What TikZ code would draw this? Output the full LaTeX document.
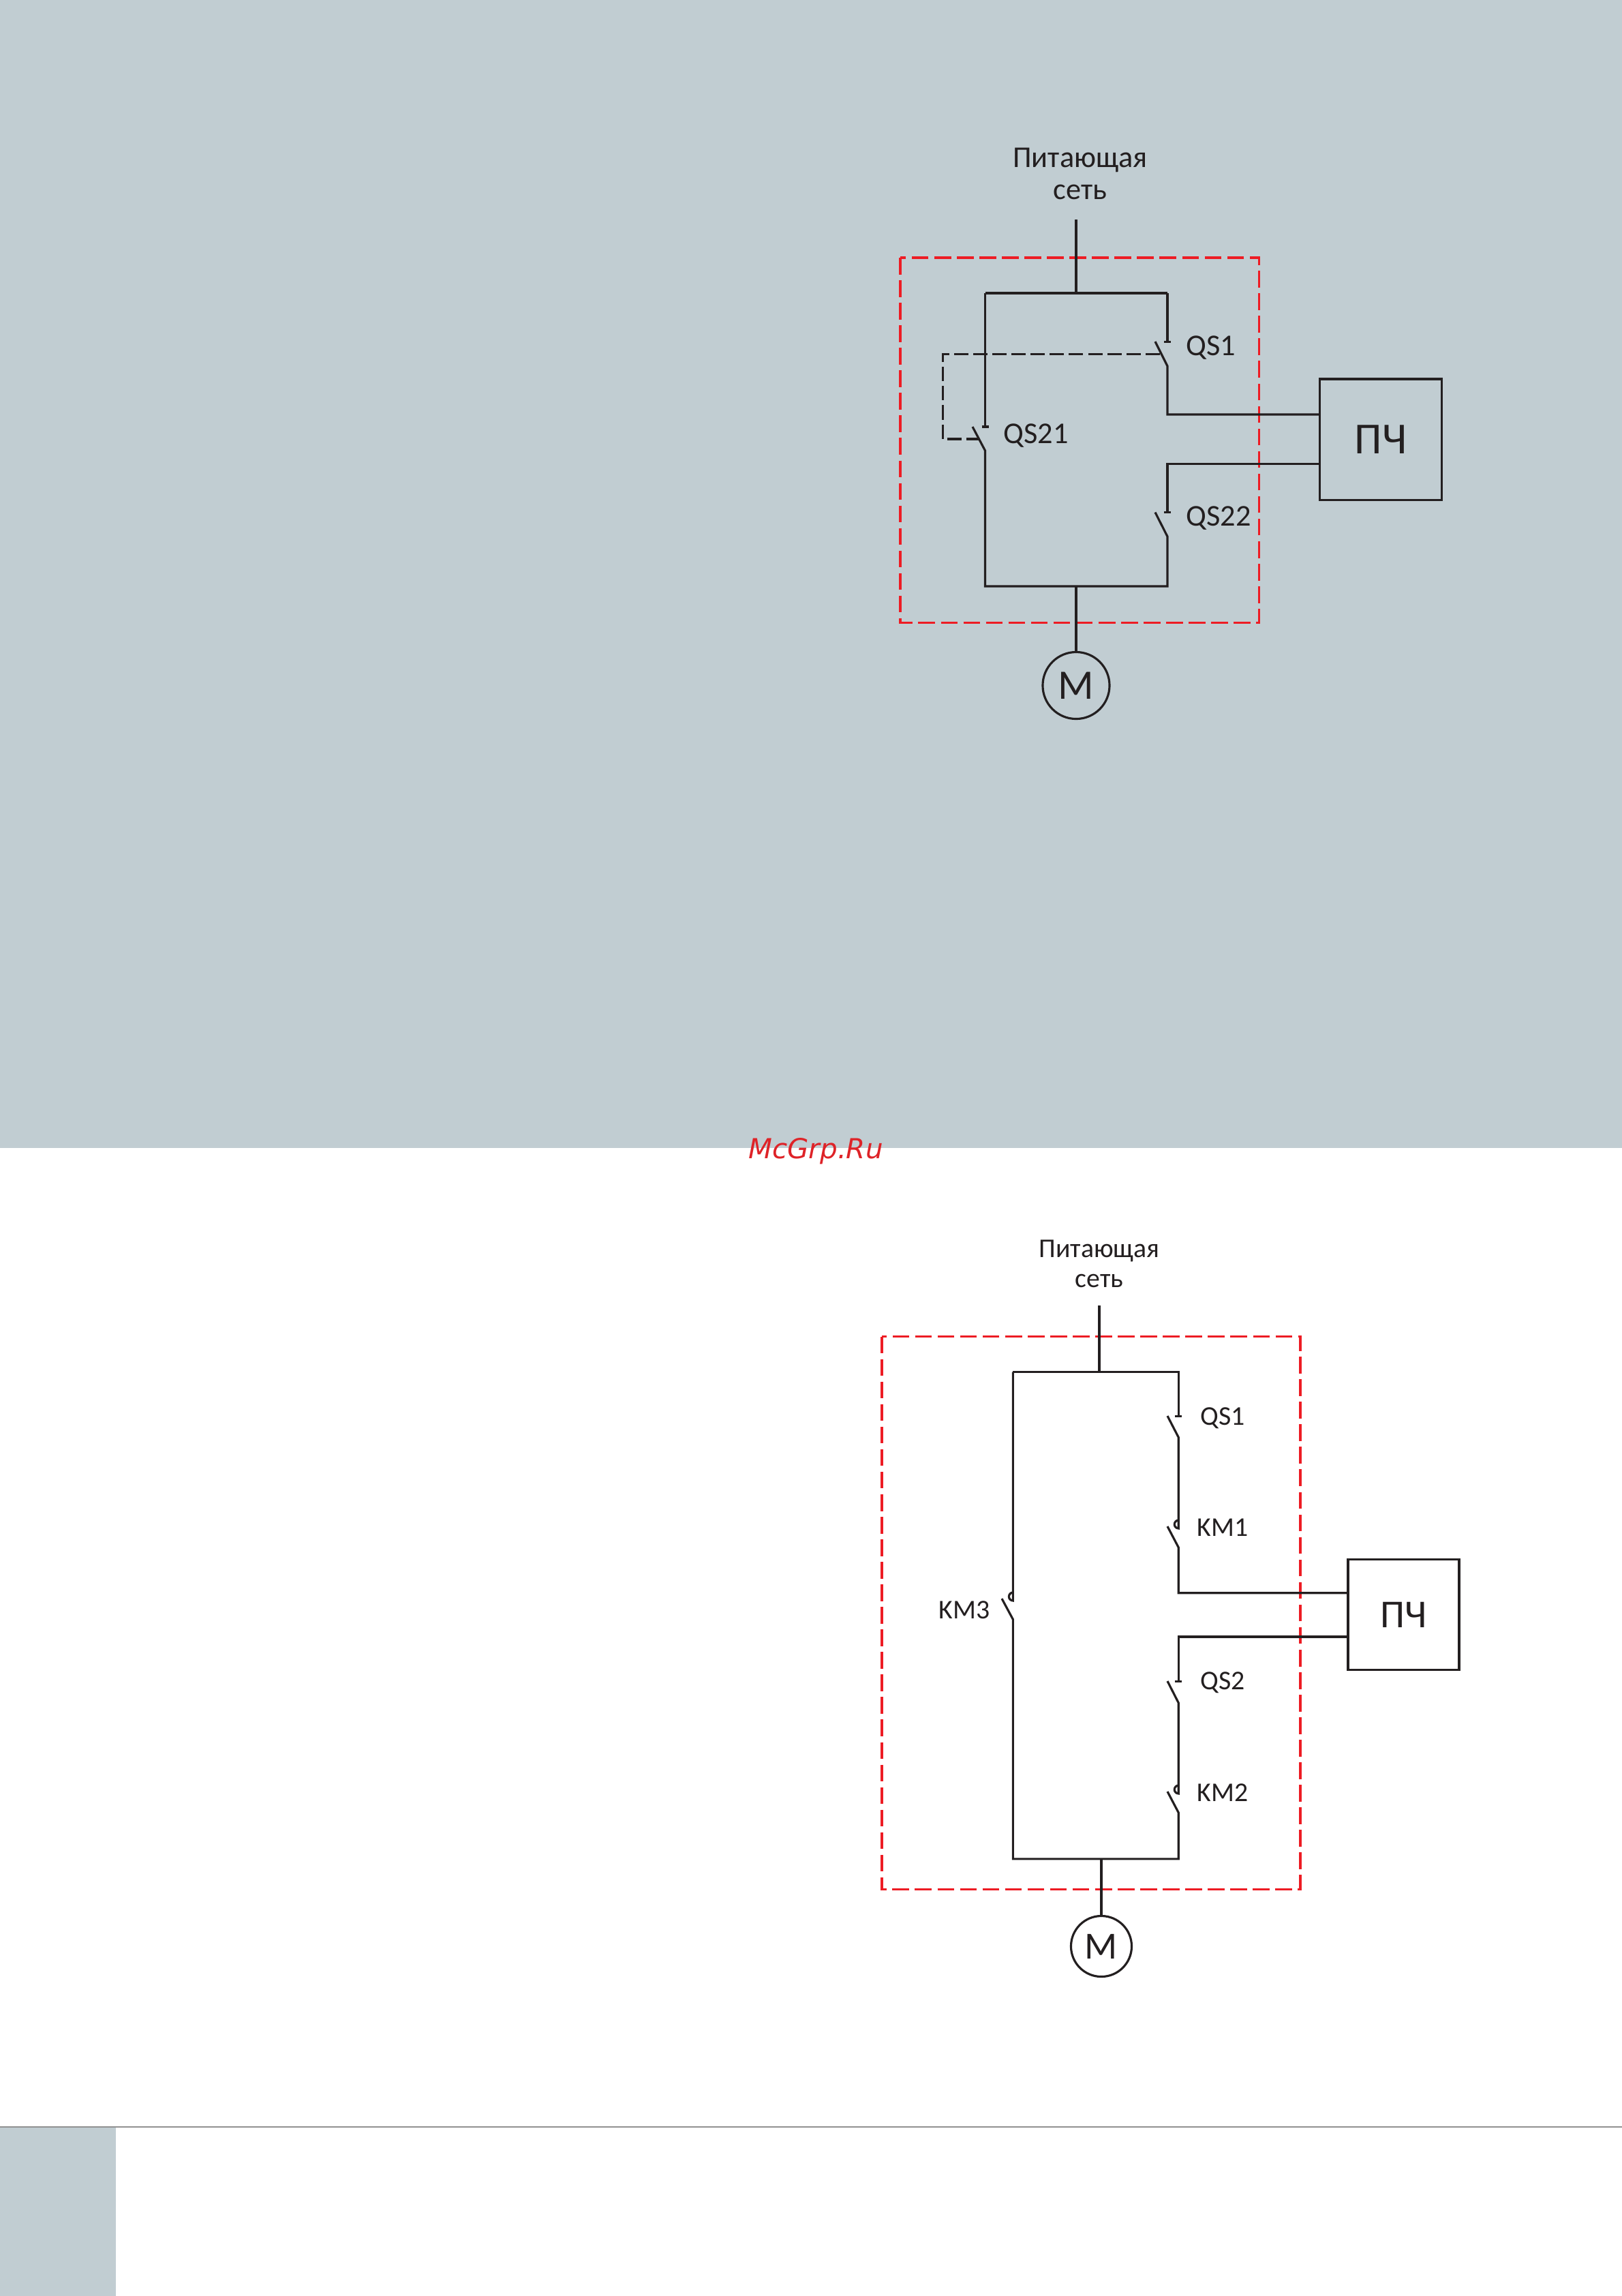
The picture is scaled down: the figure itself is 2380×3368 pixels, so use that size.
\documentclass[tikz,border=0pt]{standalone}
\usepackage{fontspec}
\setmainfont{Carlito}
\newfontfamily\markfont{DejaVu Sans}
\usetikzlibrary{positioning}
\definecolor{pagegrey}{RGB}{193,205,210}
\definecolor{inkblack}{RGB}{35,31,32}
\definecolor{framered}{RGB}{237,28,36}
\definecolor{markred}{RGB}{222,35,40}
\definecolor{rulegrey}{RGB}{145,145,145}
\tikzset{
  wire/.style={draw=inkblack, line width=0.9pt},
  linkdash/.style={draw=inkblack, line width=0.9pt, dash pattern=on 6pt off 2pt},
  redframe/.style={draw=framered, line width=0.9pt, dash pattern=on 7pt off 2.4pt},
  unitbox/.style={rectangle, draw=inkblack, line width=0.9pt, inner sep=0pt, outer sep=0pt, text=inkblack},
  motorbox/.style={circle, draw=inkblack, line width=0.9pt, inner sep=0pt, outer sep=0pt, text=inkblack},
  lbltop/.style={text=inkblack, inner sep=0pt, font=\fontsize{12.6}{13.4}\selectfont},
  lblbot/.style={text=inkblack, inner sep=0pt, font=\fontsize{11.3}{12.5}\selectfont},
}
\begin{document}
\begin{tikzpicture}[x=0.01cm, y=-0.01cm]
    \useasboundingbox (0,0) rectangle (2380,3368);
    \fill [pagegrey] (0,0) rectangle (2380,1684);
    \fill [pagegrey] (0,3121) rectangle (170,3368);
    \fill [rulegrey] (0,3119) rectangle (2380,3121);

    \node (netlabela) [lbltop, align=center, anchor=base] at (1585,292.5) {Питающая\\сеть};
    \coordinate (feedatop) at (1579,322);
    \coordinate (feedabus) at (1579,430);
    \coordinate (busal) at (1445.5,430);
    \coordinate (busar) at (1713,430);
    \coordinate (qsonet) at (1713,501.5);
    \coordinate (qsones) at (1695,501);
    \coordinate (qsoneb) at (1713,537);
    \coordinate (wireaa) at (1713,608);
    \coordinate (qslt) at (1445.5,626);
    \coordinate (qsls) at (1427,626);
    \coordinate (qslb) at (1445.5,661);
    \coordinate (wireab) at (1713,680.6);
    \coordinate (qsrt) at (1713,751.8);
    \coordinate (qsrs) at (1695,751.5);
    \coordinate (qsrb) at (1713,787);
    \coordinate (botal) at (1445.5,860);
    \coordinate (botar) at (1713,860);
    \coordinate (botam) at (1579,860);
    \coordinate (linka) at (1702,519.3);
    \coordinate (linkb) at (1383.3,519.3);
    \coordinate (linkc) at (1383.3,644);
    \coordinate (linkd) at (1436,644);
    \node (pcha) [unitbox, minimum width=1.784cm, minimum height=1.774cm, font=\fontsize{18.5}{19}\selectfont] at (2026,644.7) {ПЧ};
    \node (motora) [motorbox, minimum size=0.98cm, font=\fontsize{17.5}{18}\selectfont] at (1579,1005.5) {M};
    \node (qsonel) [lbltop, anchor=base west] at (1740,521) {QS1};
    \node (qsltl) [lbltop, anchor=base west] at (1472,650) {QS21};
    \node (qsrl) [lbltop, anchor=base west] at (1740,771) {QS22};

    \draw [redframe] (1321,378) rectangle (1847.5,913.5);
    \draw [wire] (feedatop) -- (feedabus);
    \draw [wire] (busal) -- (busar);
    \draw [wire] (busar) -- (qsonet);
    \draw [wire] ([xshift=-0.05cm]qsonet) -- ([xshift=0.05cm]qsonet);
    \draw [wire] (qsones) -- (qsoneb) -- (wireaa) -- (wireaa -| pcha.west);
    \draw [wire] (busal) -- (qslt);
    \draw [wire] ([xshift=-0.05cm]qslt) -- ([xshift=0.05cm]qslt);
    \draw [wire] (qsls) -- (qslb) -- (botal) -- (botar) -- (qsrb) -- (qsrs);
    \draw [wire] ([xshift=-0.05cm]qsrt) -- ([xshift=0.05cm]qsrt);
    \draw [wire] (qsrt) -- (wireab) -- (wireab -| pcha.west);
    \draw [wire] (botam) -- (motora);
    \draw [linkdash] (linka) -- (linkb) -- (linkc) -- (linkd);

    \node (marklabel) [inner sep=0pt, anchor=base, text=markred, font=\markfont\itshape\fontsize{11.5}{12}\selectfont] at (1197,1699) {McGrp.Ru};

    \node (netlabelb) [lblbot, align=center, anchor=base] at (1613,1888.5) {Питающая\\сеть};
    \coordinate (feedbtop) at (1613,1915);
    \coordinate (feedbbus) at (1613,2012.5);
    \coordinate (busbl) at (1486.4,2012.5);
    \coordinate (busbr) at (1729.3,2012.5);
    \coordinate (qsat) at (1729.3,2077.3);
    \coordinate (qsas) at (1713,2077);
    \coordinate (qsab) at (1729.3,2108.5);
    \coordinate (kmat) at (1729.3,2242);
    \coordinate (kmas) at (1713,2239);
    \coordinate (kmab) at (1729.3,2270);
    \coordinate (wireba) at (1729.3,2336.7);
    \coordinate (wirebb) at (1729.3,2401);
    \coordinate (qsbt) at (1729.3,2466.5);
    \coordinate (qsbs) at (1713,2466);
    \coordinate (qsbb) at (1729.3,2498);
    \coordinate (kmbt) at (1729.3,2631);
    \coordinate (kmbs) at (1713,2628);
    \coordinate (kmbb) at (1729.3,2659);
    \coordinate (kmct) at (1486.4,2348);
    \coordinate (kmcs) at (1470,2345);
    \coordinate (kmcb) at (1486.4,2375.5);
    \coordinate (botbl) at (1486.4,2726.8);
    \coordinate (botbr) at (1729.3,2726.8);
    \coordinate (botbm) at (1616,2726.8);
    \node (pchb) [unitbox, minimum width=1.63cm, minimum height=1.62cm, font=\fontsize{16.5}{17}\selectfont] at (2059.5,2368.5) {ПЧ};
    \node (motorb) [motorbox, minimum size=0.89cm, font=\fontsize{16}{16}\selectfont] at (1616,2855) {M};
    \node (qsal) [lblbot, anchor=base west] at (1761,2090) {QS1};
    \node (kmal) [lblbot, anchor=base west] at (1756,2253.5) {KM1};
    \node (kmcl) [lblbot, anchor=base west] at (1377,2374.5) {KM3};
    \node (qsbl) [lblbot, anchor=base west] at (1761,2478.5) {QS2};
    \node (kmbl) [lblbot, anchor=base west] at (1756,2642) {KM2};

    \draw [redframe] (1294,1960.5) rectangle (1908,2771.5);
    \draw [wire] (feedbtop) -- (feedbbus);
    \draw [wire] (busbl) -- (busbr) -- (qsat);
    \draw [wire] ([xshift=-0.05cm]qsat) -- ([xshift=0.05cm]qsat);
    \draw [wire] (qsas) -- (qsab) -- (kmat) arc [start angle=270, end angle=90, radius=0.06cm];
    \draw [wire] (kmas) -- (kmab) -- (wireba) -- (wireba -| pchb.west);
    \draw [wire] (wirebb -| pchb.west) -- (wirebb) -- (qsbt);
    \draw [wire] ([xshift=-0.05cm]qsbt) -- ([xshift=0.05cm]qsbt);
    \draw [wire] (qsbs) -- (qsbb) -- (kmbt) arc [start angle=270, end angle=90, radius=0.06cm];
    \draw [wire] (kmbs) -- (kmbb) -- (botbr) -- (botbl) -- (kmcb) -- (kmcs);
    \draw [wire] (busbl) -- (kmct) arc [start angle=270, end angle=90, radius=0.06cm];
    \draw [wire] (botbm) -- (motorb);
\end{tikzpicture}
\end{document}
